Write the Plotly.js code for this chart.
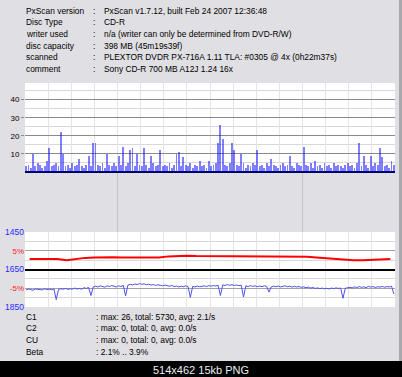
<!DOCTYPE html>
<html><head><meta charset="utf-8">
<script src="https://cdn.plot.ly/plotly-3.0.1.min.js"></script>
<style>html,body{margin:0;padding:0;background:#e0dfe3;overflow:hidden}#chart{width:402px;height:377px}</style>
</head><body><div id="chart"></div>
<script>
// ---- data ----
const c1Values = [
 3,4,2,10,3,5,4,2,3,6,
 13,3,4,5,3,22,10,3,4,2,
 5,3,4,7,3,2,4,9,3,16,
 16,4,3,5,2,10,4,3,5,3,
 9,4,14,3,5,12,13,3,10,4,
 3,13,4,2,9,5,3,4,12,3,
 4,3,5,2,4,10,11,3,8,4,
 3,5,2,4,3,6,3,4,2,6,
 3,4,5,16,26,18,4,3,5,16,
 12,4,3,10,5,2,4,3,5,4,
 12,3,4,2,5,3,7,4,3,2,
 4,5,3,4,9,3,2,5,4,3,
 14,4,3,5,2,6,3,4,2,5,
 3,4,2,5,3,4,3,2,4,5,
 3,4,2,5,16,3,9,4,2,9,
 3,5,4,13,8,3,4,2,6,4
];
const betaValues = [
 2.8,2.8,2.9,2.8,2.5,2.8,3.1,3.2,3.3,3.3,
 3.2,3.2,3.2,3.2,3.2,3.5,3.7,3.7,3.6,3.6,
 3.5,3.4,3.4,3.4,3.5,3.5,3.5,3.5,3.5,3.5,
 3.4,3.2,3.0,2.8,2.6,2.5,2.5,2.6,2.7,2.8
];
const jitterValues = [
 1760,1756,1758,1762,1755,1758,1757,1760,1754,1758,
 1756,1759,1755,1812,1757,1754,1756,1752,1757,1754,
 1756,1750,1755,1752,1756,1748,1752,1746,1790,1744,
 1740,1744,1738,1742,1745,1738,1742,1736,1740,1744,
 1738,1742,1735,1792,1734,1730,1733,1728,1731,1726,
 1730,1727,1732,1729,1734,1731,1736,1732,1735,1738,
 1734,1737,1740,1736,1742,1739,1744,1740,1743,1738,
 1742,1800,1741,1744,1739,1743,1740,1738,1742,1737,
 1740,1736,1739,1735,1790,1733,1736,1731,1735,1732,
 1736,1733,1737,1735,1798,1738,1742,1737,1741,1738,
 1743,1739,1742,1738,1741,1772,1744,1740,1743,1739,
 1744,1741,1738,1743,1740,1745,1741,1744,1742,1746,
 1744,1748,1745,1750,1747,1752,1749,1753,1750,1754,
 1751,1755,1750,1753,1749,1752,1750,1805,1751,1748,
 1746,1749,1744,1747,1742,1746,1743,1748,1741,1745,
 1742,1747,1743,1745,1741,1746,1742,1744,1740,1782
];
const c1TickValues = [10, 20, 30, 40];
const betaTickValues = [5, -5];
const betaTickLabels = ['5%', '-5%'];
const jitterTickValues = [1450, 1650, 1850];
const headerLabels = ['PxScan version', 'Disc Type', 'writer used', 'disc capacity', 'scanned', 'comment'];
const headerValues = [
 'PxScan v1.7.12, built Feb 24 2007 12:36:48',
 'CD-R',
 'n/a (writer can only be determined from DVD-R/W)',
 '398 MB (45m19s39f)',
 'PLEXTOR DVDR PX-716A 1.11 TLA: #0305 @ 4x (0h22m37s)',
 'Sony CD-R 700 MB A12J 1.24 16x'
];
const statLabels = ['C1', 'C2', 'CU', 'Beta'];
const statValues = [
 ': max: 26, total: 5730, avg: 2.1/s',
 ': max: 0, total: 0, avg: 0.0/s',
 ': max: 0, total: 0, avg: 0.0/s',
 ': 2.1% .. 3.9%'
];
const caption = '514x462 15kb PNG';

// ---- geometry helpers (pixel -> paper) ----
const W = 402, H = 377, L = 25, R = 7, T = 83, B = 70;
const PW = W - L - R, PH = H - T - B;
const fx = px => (px - L) / PW;
const fy = py => (H - B - py) / PH;

const nC1 = c1Values.length;
const c1X = c1Values.map((_, i) => i);
const betaStep = nC1 / betaValues.length;
const betaX = betaValues.map((_, j) => j * betaStep + (betaStep - 1) / 2);
const jitStep = nC1 / jitterValues.length;
const jitX = jitterValues.map((_, k) => k * jitStep + (jitStep - 1) / 2);

const font = 'Liberation Sans, Arial, sans-serif';
const traces = [
  {type: 'bar', x: c1X, y: c1Values, xaxis: 'x', yaxis: 'y2',
   marker: {color: 'rgba(0,0,255,0.5)', line: {width: 0}}, width: 0.8, hoverinfo: 'skip'},
  {type: 'scatter', mode: 'lines', x: betaX, y: betaValues, xaxis: 'x', yaxis: 'y3',
   line: {color: '#ff0000', width: 2}, hoverinfo: 'skip'},
  {type: 'scatter', mode: 'lines', x: jitX, y: jitterValues, xaxis: 'x', yaxis: 'y4',
   line: {color: '#5050ee', width: 1}, hoverinfo: 'skip'}
];

const ann = [];
const txt = (text, px, py, size, color, anchor) => ann.push({
  text: text, xref: 'paper', yref: 'paper', x: fx(px), y: fy(py),
  xanchor: anchor || 'left', yanchor: 'middle', showarrow: false,
  font: {family: font, size: size, color: color || '#000'}
});
const headerY = [10.8, 22.5, 34.1, 45.7, 57.3, 69.0];
headerLabels.forEach((t, i) => { txt(t, 24, headerY[i], 8.4); txt(':', 90.5, headerY[i], 8.4); txt(headerValues[i], 101.5, headerY[i], 8.4); });
const statY = [316.7, 328.3, 340.0, 352.0];
statLabels.forEach((t, i) => { txt(t, 24, statY[i], 8.4); txt(statValues[i], 93.5, statY[i], 8.4); });
txt(caption, 201, 369.5, 11, '#eeeeee', 'center');

const shapes = [
  {type: 'rect', xref: 'paper', yref: 'paper', x0: fx(0), x1: fx(W), y0: fy(H), y1: fy(361),
   fillcolor: '#000000', line: {width: 0}},
  {type: 'rect', xref: 'paper', yref: 'paper', x0: fx(399), x1: fx(W), y0: fy(361), y1: fy(0),
   fillcolor: '#a9a9ad', line: {width: 0}},
  {type: 'line', xref: 'x', yref: 'paper', x0: 39.5, x1: 39.5, y0: 0, y1: 1, layer: 'below',
   line: {color: '#c4c4c4', width: 1}},
  {type: 'line', xref: 'x', yref: 'paper', x0: 119.5, x1: 119.5, y0: 0, y1: 1, layer: 'below',
   line: {color: '#c4c4c4', width: 1}}
];

const layout = {
  width: W, height: H, margin: {l: L, r: R, t: T, b: B, pad: 0},
  paper_bgcolor: '#e0dfe3', plot_bgcolor: '#ffffff', showlegend: false,
  bargap: 0,
  xaxis: {range: [-0.5, nC1 - 0.5], tick0: -0.5, dtick: 10, showgrid: true, gridcolor: '#e4e4e4',
          showticklabels: false, ticks: '', zeroline: false, showline: false, anchor: 'y', fixedrange: true},
  yaxis: {domain: [0, 1], range: [0, 1], showgrid: false, showticklabels: false, ticks: '',
          zeroline: false, showline: false, anchor: 'x', fixedrange: true},
  yaxis2: {domain: [fy(173), 1], range: [-0.6, 49.2], tickvals: c1TickValues, anchor: 'x',
           showgrid: true, gridcolor: '#8a8a8a', gridwidth: 1,
           minor: {dtick: 5, tick0: 0, showgrid: true, gridcolor: '#d8d8d8', gridwidth: 1, ticks: ''},
           zeroline: true, zerolinecolor: '#000050', zerolinewidth: 2.5,
           ticks: 'outside', ticklen: 3, tickcolor: '#8a8a8a', showline: false,
           tickfont: {family: font, size: 8, color: '#000'}, fixedrange: true},
  yaxis3: {domain: [0, fy(232)], range: [-10, 10], tickvals: betaTickValues, ticktext: betaTickLabels,
           anchor: 'x', showgrid: true, gridcolor: '#a0a0a0',
           minor: {tickvals: [-7.5, -2.5, 2.5, 7.5], showgrid: true, gridcolor: '#d8d8d8', ticks: ''},
           zeroline: false, ticks: '', showline: false,
           tickfont: {family: font, size: 8, color: '#ff2020'}, fixedrange: true},
  yaxis4: {overlaying: 'y3', range: [1852, 1448], tickvals: jitterTickValues, anchor: 'x', side: 'left',
           showgrid: true, gridcolor: '#000000', gridwidth: 2, zeroline: false, ticks: '', showline: false,
           tickfont: {family: font, size: 8.5, color: '#2a2aff'}, fixedrange: true},
  annotations: ann, shapes: shapes
};
Plotly.newPlot('chart', traces, layout, {displayModeBar: false, staticPlot: true});
</script></body></html>
